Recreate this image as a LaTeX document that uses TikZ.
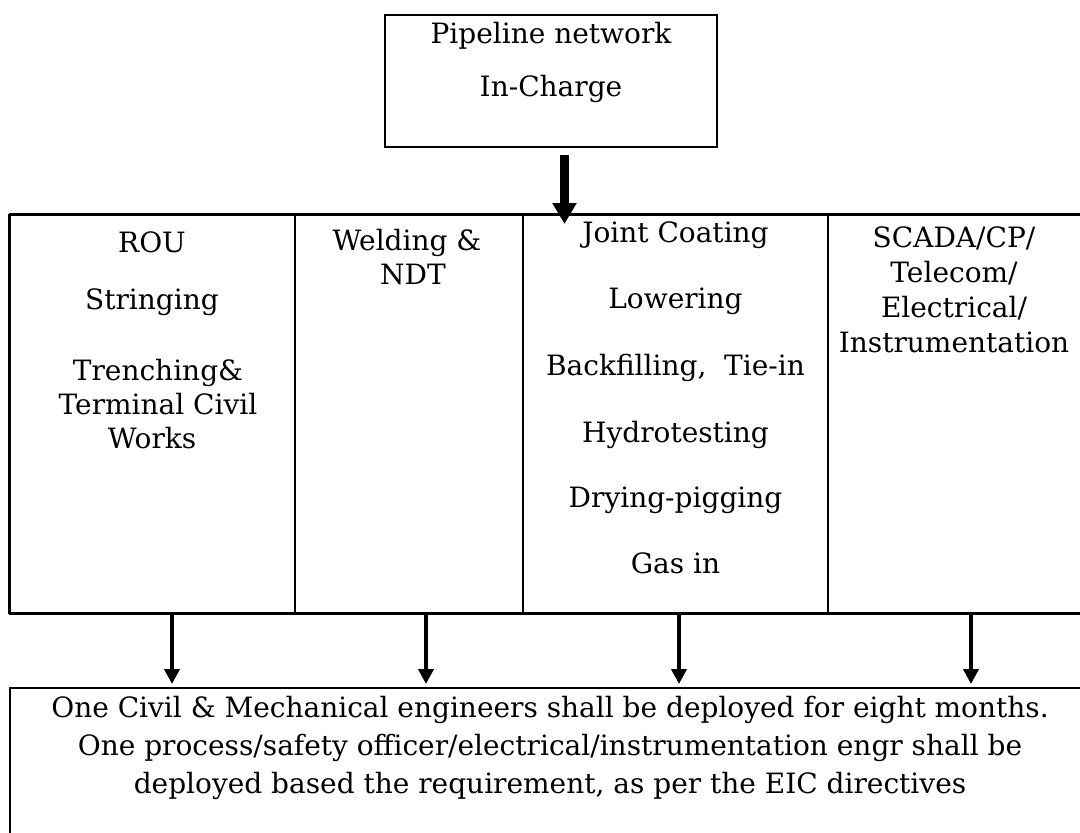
\documentclass[tikz,border=0pt]{standalone}
\usepackage{fontspec}
\setmainfont{DejaVu Serif}
\usetikzlibrary{arrows.meta,calc}
\tikzset{
  box/.style={draw=black,line width=2pt,rectangle,inner sep=0pt},
  cellbox/.style={draw=black,line width=1.6pt,rectangle,inner sep=0pt,minimum height=398pt},
  txt/.style={anchor=base,inner sep=0pt,font=\fontsize{28}{35}\selectfont},
  bigarrow/.style={line width=9pt,-{Triangle[width=23pt,length=21pt]}},
  smallarrow/.style={line width=4.5pt,-{Triangle[width=15pt,length=15pt]}}
}
\begin{document}
\begin{tikzpicture}[x=1pt,y=-1pt]
\useasboundingbox (0,0) rectangle (1080,833);
\clip (0,0) rectangle (1080,833);
% top box
\node[box,minimum width=332pt,minimum height=132pt] (top) at (551,81) {};
\node[txt] (t1) at (551,43) {Pipeline network};
\node[txt] (t2) at (551,96) {In-Charge};
% row of cells
\node[cellbox,minimum width=285pt] (cell1) at (152.5,414) {};
\node[cellbox,minimum width=228pt] (cell2) at (409,414) {};
\node[cellbox,minimum width=305pt] (cell3) at (675.5,414) {};
\node[cellbox,minimum width=262pt] (cell4) at (959,414) {};
\draw[line width=2.6pt] (cell1.north west) -- (cell4.north east);
\draw[line width=2.6pt] (cell1.south west) -- (cell4.south east);
\draw[line width=2.6pt] (cell1.north west) -- (cell1.south west);
% column 1
\node[txt] (c1a) at (152,252) {ROU};
\node[txt] (c1b) at (152,309) {Stringing};
\node[txt] (c1c) at (158,380) {Trenching\&};
\node[txt] (c1d) at (158,414) {Terminal Civil};
\node[txt] (c1e) at (152,448) {Works};
% column 2
\node[txt] (c2a) at (407,250) {Welding \&};
\node[txt] (c2b) at (413,284) {NDT};
% column 3
\node[txt] (c3a) at (675.5,242) {Joint Coating};
\node[txt] (c3b) at (675.5,308) {Lowering};
\node[txt] (c3c) at (675.5,375) {Backfilling,\ \ Tie-in};
\node[txt] (c3d) at (675.5,442) {Hydrotesting};
\node[txt] (c3e) at (675.5,507) {Drying-pigging};
\node[txt] (c3f) at (675.5,573) {Gas in};
% column 4
\node[txt] (c4a) at (954,247) {SCADA/CP/};
\node[txt] (c4b) at (954,282) {Telecom/};
\node[txt] (c4c) at (954,317) {Electrical/};
\node[txt] (c4d) at (954,352) {Instrumentation};
% bottom box
\node[box,line width=2.6pt,minimum width=1080pt,minimum height=160pt] (bot) at (550,768) {};
\node[txt] (b1) at (550,717) {One Civil \& Mechanical engineers shall be deployed for eight months.};
\node[txt] (b2) at (550,755) {One process/safety officer/electrical/instrumentation engr shall be};
\node[txt] (b3) at (550,793) {deployed based the requirement, as per the EIC directives};
% arrows
\coordinate (ta) at (564.5,224);
\draw[bigarrow] ($(top.south)+(13.5,7)$) -- (ta);
\coordinate (a1) at (172,684);
\coordinate (a2) at (426,684);
\coordinate (a3) at (679,684);
\coordinate (a4) at (971,684);
\draw[smallarrow] (cell1.south -| a1) -- (a1);
\draw[smallarrow] (cell2.south -| a2) -- (a2);
\draw[smallarrow] (cell3.south -| a3) -- (a3);
\draw[smallarrow] (cell4.south -| a4) -- (a4);
\end{tikzpicture}
\end{document}
